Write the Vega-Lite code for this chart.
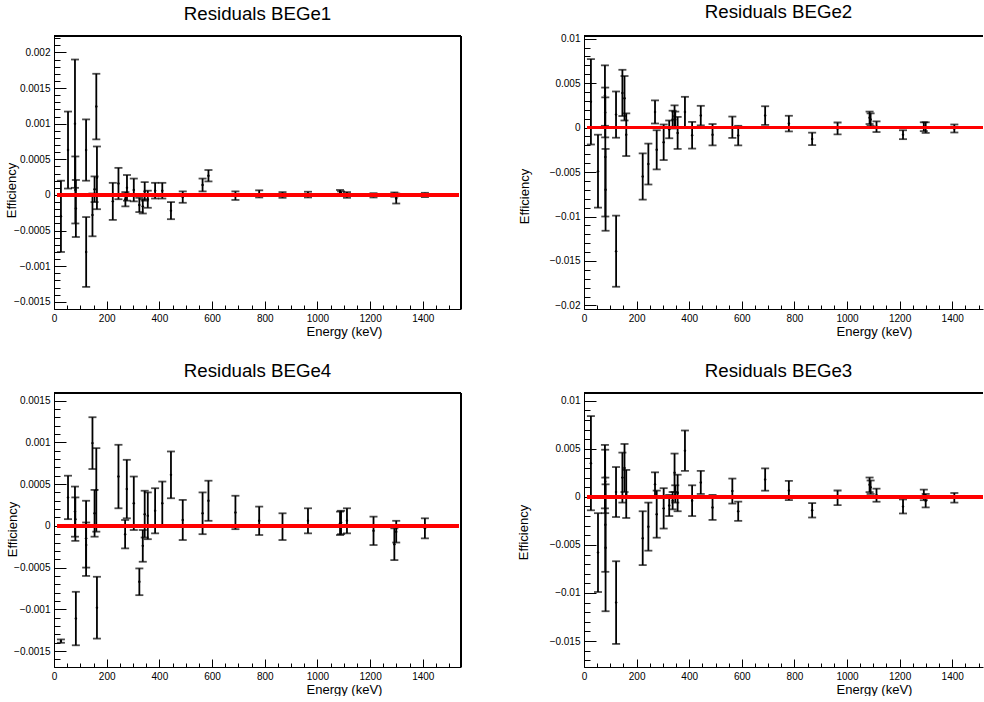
{
"$schema": "https://vega.github.io/schema/vega-lite/v6.json",
"background": "white",
"padding": {"left": 5, "top": 2, "right": 0, "bottom": 0},
"datasets": {
"b1": [
{"E":26.3,"v":-0.0003,"err":0.0005},{"E":53.2,"v":0.00063,"err":0.00054},{"E":79.6,"v":0.001,"err":0.0009},{"E":81.0,"v":0.00007,"err":0.00047},{"E":83,"v":-0.00019,"err":0.0004},
{"E":121.8,"v":0.00063,"err":0.00043},{"E":122.1,"v":-0.0008,"err":0.00049},{"E":146,"v":-0.00028,"err":0.0003},{"E":154,"v":0.00008,"err":0.00018},{"E":160.6,"v":0.00124,"err":0.00046},{"E":163,"v":0.00024,"err":0.00044},
{"E":223.2,"v":-0.00009,"err":0.00026},{"E":244.7,"v":0.00016,"err":0.00022},{"E":271,"v":-0.00006,"err":0.0001},{"E":277,"v":0.0001,"err":0.00018},{"E":302.9,"v":0.00007,"err":0.00016},
{"E":324,"v":-0.00014,"err":0.0001},{"E":337,"v":-0.00016,"err":0.0001},{"E":344.3,"v":0.00005,"err":0.00013},{"E":356.0,"v":-0.00006,"err":0.00012},{"E":383.8,"v":0.00006,"err":0.00011},
{"E":411.1,"v":0.00006,"err":0.00011},{"E":444.0,"v":-0.00022,"err":0.00012},{"E":488.7,"v":-0.00003,"err":0.00008},{"E":564.0,"v":0.00014,"err":0.00009},{"E":586.3,"v":0.00027,"err":0.00008},
{"E":688.7,"v":-0.00001,"err":0.00006},{"E":778.9,"v":0.000015,"err":0.00005},{"E":867.4,"v":0.0,"err":0.00004},{"E":964.1,"v":0.000005,"err":0.00004},{"E":1085.8,"v":0.00004,"err":0.00003},
{"E":1089.7,"v":0.00002,"err":0.00003},{"E":1112.1,"v":0.0,"err":0.00004},{"E":1212.9,"v":-0.000005,"err":0.00003},{"E":1292,"v":0.000005,"err":0.00003},{"E":1299.1,"v":-0.00005,"err":0.00007},{"E":1408.0,"v":0.0,"err":0.00003}
],
"b2": [
{"E":26.3,"v":0.0029,"err":0.0048},{"E":53.2,"v":-0.0049,"err":0.0041},{"E":79.6,"v":0.0036,"err":0.0034},{"E":80.5,"v":0.0017,"err":0.0028},{"E":81.0,"v":-0.0033,"err":0.0067},{"E":82,"v":-0.007,"err":0.0046},
{"E":121.8,"v":0.00146,"err":0.0026},{"E":122.1,"v":-0.0139,"err":0.004},{"E":146,"v":0.0039,"err":0.0026},{"E":154,"v":0.0033,"err":0.0025},{"E":160.6,"v":-0.0008,"err":0.0024},
{"E":223.2,"v":-0.0055,"err":0.0026},{"E":244.7,"v":-0.0041,"err":0.0023},{"E":270,"v":0.00176,"err":0.0013},{"E":276.4,"v":-0.0025,"err":0.0022},{"E":302.9,"v":-0.00165,"err":0.002},
{"E":324,"v":-0.0002,"err":0.001},{"E":337,"v":0.0009,"err":0.001},{"E":344.3,"v":0.0013,"err":0.0012},{"E":347,"v":0.0009,"err":0.0009},{"E":356.0,"v":-0.0006,"err":0.0018},
{"E":383.8,"v":0.00176,"err":0.0017},{"E":411.1,"v":-0.00086,"err":0.0015},{"E":444.0,"v":0.00135,"err":0.0011},{"E":488.7,"v":-0.0008,"err":0.0012},{"E":564.0,"v":0.00004,"err":0.0012},{"E":586.3,"v":-0.0009,"err":0.0011},
{"E":688.7,"v":0.00135,"err":0.00105},{"E":778.9,"v":0.00045,"err":0.00088},{"E":867.4,"v":-0.00127,"err":0.0007},{"E":964.1,"v":-0.0001,"err":0.00067},{"E":1085.8,"v":0.0011,"err":0.0007},
{"E":1089.7,"v":0.0009,"err":0.0007},{"E":1112.1,"v":0.0001,"err":0.0006},{"E":1212.9,"v":-0.0008,"err":0.0005},{"E":1292,"v":0.0001,"err":0.0005},{"E":1299.1,"v":0.0,"err":0.0006},{"E":1408.0,"v":-0.0001,"err":0.00045}
],
"b4": [
{"E":26.3,"v":-0.00138,"err":0.00002},{"E":53.2,"v":0.00034,"err":0.00026},{"E":79.6,"v":0.00017,"err":0.0003},{"E":81.0,"v":0.00008,"err":0.00026},{"E":83,"v":-0.00111,"err":0.00032},
{"E":121.8,"v":-0.00015,"err":0.00045},{"E":122.1,"v":-0.00023,"err":0.00027},{"E":146,"v":0.00099,"err":0.00031},{"E":154,"v":0.00015,"err":0.00028},{"E":160.6,"v":0.00043,"err":0.0005},{"E":163,"v":-0.00098,"err":0.00037},
{"E":244.7,"v":0.00059,"err":0.00038},{"E":270,"v":-0.0001,"err":0.00017},{"E":276.4,"v":0.00044,"err":0.00035},{"E":302.9,"v":0.00027,"err":0.00032},
{"E":324,"v":-0.00067,"err":0.00016},{"E":337,"v":-0.00024,"err":0.00019},{"E":344.3,"v":0.00014,"err":0.00028},{"E":356.0,"v":0.00012,"err":0.00028},{"E":383.8,"v":0.00018,"err":0.00027},
{"E":411.1,"v":0.00027,"err":0.00026},{"E":444.0,"v":0.00061,"err":0.00028},{"E":488.7,"v":0.00007,"err":0.00024},{"E":564.0,"v":0.00015,"err":0.00025},{"E":586.3,"v":0.0003,"err":0.00024},
{"E":688.7,"v":0.00016,"err":0.0002},{"E":778.9,"v":0.00006,"err":0.00017},{"E":867.4,"v":-0.00001,"err":0.00016},{"E":964.1,"v":0.00006,"err":0.00015},{"E":1085.8,"v":0.00003,"err":0.00014},
{"E":1089.7,"v":0.00004,"err":0.00014},{"E":1112.1,"v":0.00006,"err":0.00015},{"E":1212.9,"v":-0.00006,"err":0.00017},{"E":1292,"v":-0.00022,"err":0.00019},{"E":1299.1,"v":-0.00007,"err":0.00013},{"E":1408.0,"v":-0.00003,"err":0.00012}
],
"b3": [
{"E":26.3,"v":0.0035,"err":0.0049},{"E":53.2,"v":-0.0058,"err":0.0041},{"E":79.6,"v":0.0021,"err":0.0033},{"E":80.5,"v":0.0016,"err":0.0033},{"E":81.0,"v":-0.0029,"err":0.0049},{"E":82,"v":-0.0053,"err":0.0066},
{"E":121.8,"v":0.0005,"err":0.0026},{"E":122.1,"v":-0.011,"err":0.0043},{"E":146,"v":0.002,"err":0.0026},{"E":154,"v":0.003,"err":0.0025},{"E":160.6,"v":0.0003,"err":0.0025},
{"E":223.2,"v":-0.0043,"err":0.0028},{"E":244.7,"v":-0.0031,"err":0.0025},{"E":270,"v":0.0013,"err":0.00125},{"E":276.4,"v":-0.0018,"err":0.00245},{"E":302.9,"v":-0.0012,"err":0.0021},
{"E":324,"v":-0.0009,"err":0.0011},{"E":337,"v":-0.0004,"err":0.0009},{"E":344.3,"v":0.0025,"err":0.002},{"E":347,"v":0.0003,"err":0.0009},{"E":356.0,"v":0.0004,"err":0.0019},
{"E":383.8,"v":0.0048,"err":0.0021},{"E":411.1,"v":-0.0004,"err":0.0016},{"E":444.0,"v":0.0015,"err":0.0012},{"E":488.7,"v":-0.0011,"err":0.0013},{"E":564.0,"v":0.0006,"err":0.0013},{"E":586.3,"v":-0.0015,"err":0.001},
{"E":688.7,"v":0.0018,"err":0.00116},{"E":778.9,"v":0.00066,"err":0.001},{"E":867.4,"v":-0.0014,"err":0.00075},{"E":964.1,"v":-0.0001,"err":0.00076},{"E":1085.8,"v":0.00125,"err":0.00076},
{"E":1089.7,"v":0.001,"err":0.0007},{"E":1112.1,"v":0.00017,"err":0.00068},{"E":1212.9,"v":-0.001,"err":0.00073},{"E":1292,"v":0.0002,"err":0.00055},{"E":1299.1,"v":-0.0004,"err":0.0007},{"E":1408.0,"v":-0.0001,"err":0.0005}
]
},
"concat": [
{
"width": 407, "height": 273,
"title": {"text": "Residuals BEGe1", "frame": "group", "anchor": "middle", "offset": 12},
"data": {"name": "b1"},
"layer": [
{"mark": {"type": "errorbar", "color": "black", "thickness": 1.8, "ticks": {"size": 8, "thickness": 1.8, "color": "black"}},
 "encoding": {
  "x": {"field": "E", "type": "quantitative", "scale": {"domain": [0, 1545], "nice": false, "zero": false},
        "axis": {"orient": "bottom", "values": [0,200,400,600,800,1000,1200,1400], "tickSize": -8, "labelPadding": 12, "format": "d", "title": "Energy (keV)", "titleX": 290, "titleY": 22, "titleAlign": "center", "titleBaseline": "middle"}},
  "y": {"field": "v", "type": "quantitative", "scale": {"domain": [-0.0016, 0.00223], "nice": false, "zero": false},
        "axis": {"orient": "left", "values": [-0.0015,-0.001,-0.0005,0,0.0005,0.001,0.0015,0.002], "tickSize": -12, "labelPadding": 16, "format": "~g", "title": "Efficiency", "titleX": -43, "titleY": 154, "titleAngle": 270, "titleAlign": "center", "titleBaseline": "middle"}},
  "yError": {"field": "err"}
 }},
{"mark": {"type": "point", "filled": true, "size": 6, "color": "black", "opacity": 1},
 "encoding": {
  "x": {"field": "E", "type": "quantitative", "axis": {"orient": "bottom", "values": [0,50,100,150,200,250,300,350,400,450,500,550,600,650,700,750,800,850,900,950,1000,1050,1100,1150,1200,1250,1300,1350,1400,1450,1500], "tickSize": -4, "labels": false, "domain": false, "title": null}},
  "y": {"field": "v", "type": "quantitative", "axis": {"orient": "left", "values": [-0.0015,-0.0014,-0.0013,-0.0012,-0.0011,-0.001,-0.0009,-0.0008,-0.0007,-0.0006,-0.0005,-0.0004,-0.0003,-0.0002,-0.0001,0,0.0001,0.0002,0.0003,0.0004,0.0005,0.0006,0.0007,0.0008,0.0009,0.001,0.0011,0.0012,0.0013,0.0014,0.0015,0.0016,0.0017,0.0018,0.0019,0.002,0.0021,0.0022], "tickSize": -6, "labels": false, "domain": false, "title": null}}
 }},
{"mark": {"type": "rule", "color": "#ff0000", "strokeWidth": 3},
 "encoding": {"x": {"datum": 12, "axis": null}, "x2": {"datum": 1535}, "y": {"datum": 0, "axis": null}}},
{"mark": {"type": "rule", "color": "black", "strokeWidth": 1},
 "encoding": {"y": {"datum": 0.00223, "axis": null}}},
{"mark": {"type": "rule", "color": "black", "strokeWidth": 1},
 "encoding": {"x": {"datum": 1545, "axis": null}}}
],
"resolve": {"axis": {"x": "independent", "y": "independent"}}
},
{
"width": 399, "height": 273,
"title": {"text": "Residuals BEGe2", "frame": "group", "anchor": "middle", "offset": 12, "dx": -5},
"data": {"name": "b2"},
"layer": [
{"mark": {"type": "errorbar", "color": "black", "thickness": 1.8, "ticks": {"size": 8, "thickness": 1.8, "color": "black"}},
 "encoding": {
  "x": {"field": "E", "type": "quantitative", "scale": {"domain": [0, 1517], "nice": false, "zero": false},
        "axis": {"orient": "bottom", "values": [0,200,400,600,800,1000,1200,1400], "tickSize": -8, "labelPadding": 12, "format": "d", "title": "Energy (keV)", "titleX": 290, "titleY": 22, "titleAlign": "center", "titleBaseline": "middle"}},
  "y": {"field": "v", "type": "quantitative", "scale": {"domain": [-0.0204, 0.0103], "nice": false, "zero": false},
        "axis": {"orient": "left", "values": [-0.02,-0.015,-0.01,-0.005,0,0.005,0.01], "tickSize": -12, "labelPadding": 16, "format": "~g", "title": "Efficiency", "titleX": -60, "titleY": 160, "titleAngle": 270, "titleAlign": "center", "titleBaseline": "middle"}},
  "yError": {"field": "err"}
 }},
{"mark": {"type": "point", "filled": true, "size": 6, "color": "black", "opacity": 1},
 "encoding": {
  "x": {"field": "E", "type": "quantitative", "axis": {"orient": "bottom", "values": [0,50,100,150,200,250,300,350,400,450,500,550,600,650,700,750,800,850,900,950,1000,1050,1100,1150,1200,1250,1300,1350,1400,1450,1500], "tickSize": -4, "labels": false, "domain": false, "title": null}},
  "y": {"field": "v", "type": "quantitative", "axis": {"orient": "left", "values": [-0.02,-0.019,-0.018,-0.017,-0.016,-0.015,-0.014,-0.013,-0.012,-0.011,-0.01,-0.009,-0.008,-0.007,-0.006,-0.005,-0.004,-0.003,-0.002,-0.001,0,0.001,0.002,0.003,0.004,0.005,0.006,0.007,0.008,0.009,0.01], "tickSize": -6, "labels": false, "domain": false, "title": null}}
 }},
{"mark": {"type": "rule", "color": "#ff0000", "strokeWidth": 3},
 "encoding": {"x": {"datum": 12, "axis": null}, "x2": {"datum": 1517}, "y": {"datum": 0, "axis": null}}},
{"mark": {"type": "rule", "color": "black", "strokeWidth": 1},
 "encoding": {"y": {"datum": 0.0103, "axis": null}}}
],
"resolve": {"axis": {"x": "independent", "y": "independent"}}
},
{
"width": 407, "height": 274,
"title": {"text": "Residuals BEGe4", "frame": "group", "anchor": "middle", "offset": 12},
"data": {"name": "b4"},
"layer": [
{"mark": {"type": "errorbar", "color": "black", "thickness": 1.8, "ticks": {"size": 8, "thickness": 1.8, "color": "black"}},
 "encoding": {
  "x": {"field": "E", "type": "quantitative", "scale": {"domain": [0, 1545], "nice": false, "zero": false},
        "axis": {"orient": "bottom", "values": [0,200,400,600,800,1000,1200,1400], "tickSize": -8, "labelPadding": 12, "format": "d", "title": "Energy (keV)", "titleX": 290, "titleY": 22, "titleAlign": "center", "titleBaseline": "middle"}},
  "y": {"field": "v", "type": "quantitative", "scale": {"domain": [-0.00169, 0.00159], "nice": false, "zero": false},
        "axis": {"orient": "left", "values": [-0.0015,-0.001,-0.0005,0,0.0005,0.001,0.0015], "tickSize": -12, "labelPadding": 16, "format": "~g", "title": "Efficiency", "titleX": -42, "titleY": 136, "titleAngle": 270, "titleAlign": "center", "titleBaseline": "middle"}},
  "yError": {"field": "err"}
 }},
{"mark": {"type": "point", "filled": true, "size": 6, "color": "black", "opacity": 1},
 "encoding": {
  "x": {"field": "E", "type": "quantitative", "axis": {"orient": "bottom", "values": [0,50,100,150,200,250,300,350,400,450,500,550,600,650,700,750,800,850,900,950,1000,1050,1100,1150,1200,1250,1300,1350,1400,1450,1500], "tickSize": -4, "labels": false, "domain": false, "title": null}},
  "y": {"field": "v", "type": "quantitative", "axis": {"orient": "left", "values": [-0.0016,-0.0015,-0.0014,-0.0013,-0.0012,-0.0011,-0.001,-0.0009,-0.0008,-0.0007,-0.0006,-0.0005,-0.0004,-0.0003,-0.0002,-0.0001,0,0.0001,0.0002,0.0003,0.0004,0.0005,0.0006,0.0007,0.0008,0.0009,0.001,0.0011,0.0012,0.0013,0.0014,0.0015], "tickSize": -6, "labels": false, "domain": false, "title": null}}
 }},
{"mark": {"type": "rule", "color": "#ff0000", "strokeWidth": 3},
 "encoding": {"x": {"datum": 12, "axis": null}, "x2": {"datum": 1535}, "y": {"datum": 0, "axis": null}}},
{"mark": {"type": "rule", "color": "black", "strokeWidth": 1},
 "encoding": {"y": {"datum": 0.00159, "axis": null}}},
{"mark": {"type": "rule", "color": "black", "strokeWidth": 1},
 "encoding": {"x": {"datum": 1545, "axis": null}}}
],
"resolve": {"axis": {"x": "independent", "y": "independent"}}
},
{
"width": 399, "height": 274,
"title": {"text": "Residuals BEGe3", "frame": "group", "anchor": "middle", "offset": 12, "dx": -5},
"data": {"name": "b3"},
"layer": [
{"mark": {"type": "errorbar", "color": "black", "thickness": 1.8, "ticks": {"size": 8, "thickness": 1.8, "color": "black"}},
 "encoding": {
  "x": {"field": "E", "type": "quantitative", "scale": {"domain": [0, 1517], "nice": false, "zero": false},
        "axis": {"orient": "bottom", "values": [0,200,400,600,800,1000,1200,1400], "tickSize": -8, "labelPadding": 12, "format": "d", "title": "Energy (keV)", "titleX": 290, "titleY": 22, "titleAlign": "center", "titleBaseline": "middle"}},
  "y": {"field": "v", "type": "quantitative", "scale": {"domain": [-0.0177, 0.0108], "nice": false, "zero": false},
        "axis": {"orient": "left", "values": [-0.015,-0.01,-0.005,0,0.005,0.01], "tickSize": -12, "labelPadding": 16, "format": "~g", "title": "Efficiency", "titleX": -61, "titleY": 139, "titleAngle": 270, "titleAlign": "center", "titleBaseline": "middle"}},
  "yError": {"field": "err"}
 }},
{"mark": {"type": "point", "filled": true, "size": 6, "color": "black", "opacity": 1},
 "encoding": {
  "x": {"field": "E", "type": "quantitative", "axis": {"orient": "bottom", "values": [0,50,100,150,200,250,300,350,400,450,500,550,600,650,700,750,800,850,900,950,1000,1050,1100,1150,1200,1250,1300,1350,1400,1450,1500], "tickSize": -4, "labels": false, "domain": false, "title": null}},
  "y": {"field": "v", "type": "quantitative", "axis": {"orient": "left", "values": [-0.017,-0.016,-0.015,-0.014,-0.013,-0.012,-0.011,-0.01,-0.009,-0.008,-0.007,-0.006,-0.005,-0.004,-0.003,-0.002,-0.001,0,0.001,0.002,0.003,0.004,0.005,0.006,0.007,0.008,0.009,0.01], "tickSize": -6, "labels": false, "domain": false, "title": null}}
 }},
{"mark": {"type": "rule", "color": "#ff0000", "strokeWidth": 3},
 "encoding": {"x": {"datum": 12, "axis": null}, "x2": {"datum": 1517}, "y": {"datum": 0, "axis": null}}},
{"mark": {"type": "rule", "color": "black", "strokeWidth": 1},
 "encoding": {"y": {"datum": 0.0108, "axis": null}}}
],
"resolve": {"axis": {"x": "independent", "y": "independent"}}
}
],
"columns": 2,
"spacing": {"row": 84, "column": 123},
"bounds": "flush",
"config": {
"view": {"stroke": null},
"font": "Liberation Sans",
"title": {"font": "Liberation Sans", "fontSize": 18.7, "fontWeight": "normal", "color": "black"},
"axis": {"domainColor": "black", "domainWidth": 1, "tickColor": "black", "tickWidth": 1, "labelColor": "black", "labelFont": "Liberation Sans", "labelFontSize": 10, "titleFont": "Liberation Sans", "titleFontSize": 13, "titleFontWeight": "normal", "titleColor": "black", "grid": false, "labelOverlap": false, "labelFlush": false, "labelPadding": 4}
}
}
